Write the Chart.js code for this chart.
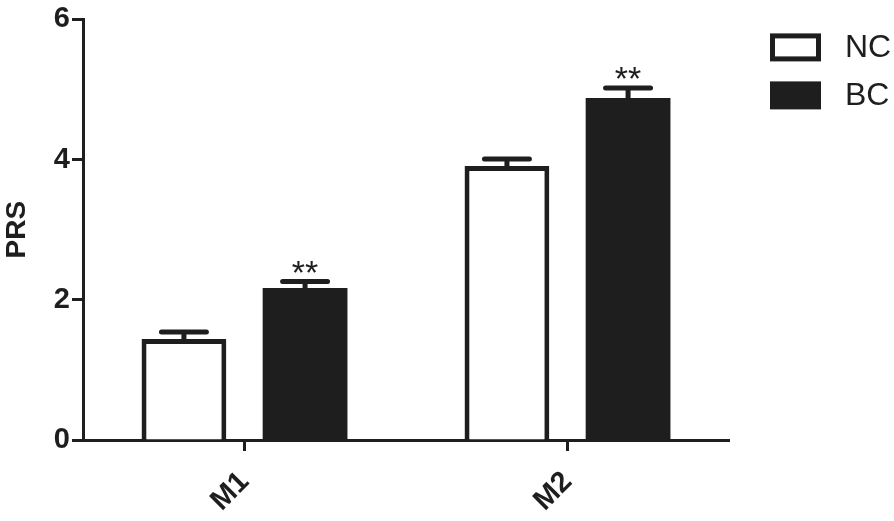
<!DOCTYPE html>
<html>
<head>
<meta charset="utf-8">
<script src="https://cdn.jsdelivr.net/npm/chart.js@4.4.1/dist/chart.umd.min.js"></script>
<style>
  html, body { margin: 0; padding: 0; background: #fff; }
</style>
</head>
<body>
<canvas id="chart" width="894" height="521"></canvas>
<script>
'use strict';

const categories = ['M1', 'M2'];
const seriesNames = ['NC', 'BC'];
const ncValues = [1.44, 3.91];
const ncErrors = [0.10, 0.10];
const bcValues = [2.17, 4.88];
const bcErrors = [0.09, 0.14];
const bcMarks = ['**', '**'];
const yTicks = [0, 2, 4, 6];

const INK = '#1e1e1e';
const FONT = "'Liberation Sans', Arial, Helvetica, sans-serif";

Chart.defaults.font.family = FONT;
Chart.defaults.color = INK;

/* Draw the SEM whiskers and the significance marks on top of the bars */
const errorBars = {
  id: 'errorBars',
  afterDatasetsDraw(chart) {
    const ctx = chart.ctx;
    const yScale = chart.scales.y;

    chart.data.datasets.forEach((ds, di) => {
      const meta = chart.getDatasetMeta(di);

      meta.data.forEach((bar, i) => {
        const top = yScale.getPixelForValue(ds.data[i] + ds.errors[i]);
        const half = bar.width * 0.265;

        ctx.save();
        ctx.strokeStyle = INK;
        ctx.lineWidth = 5;
        ctx.lineCap = 'round';
        ctx.beginPath();
        ctx.moveTo(bar.x, bar.y);
        ctx.lineTo(bar.x, top);
        ctx.moveTo(bar.x - half, top);
        ctx.lineTo(bar.x + half, top);
        ctx.stroke();

        if(ds.marks && ds.marks[i]) {
          ctx.fillStyle = INK;
          ctx.font = '34px ' + FONT;
          ctx.textAlign = 'center';
          ctx.textBaseline = 'alphabetic';
          ctx.fillText(ds.marks[i], bar.x, top + 2);
        }
        ctx.restore();
      });
    });
  }
};

/* Legend boxes on the right, drawn like the original figure */
const sideLegend = {
  id: 'sideLegend',
  afterDraw(chart) {
    const ctx = chart.ctx;
    const area = chart.chartArea;
    const boxX = area.right + 41;

    chart.data.datasets.forEach((ds, di) => {
      const boxY = area.top + 14 + di * 48;

      ctx.save();
      ctx.fillStyle = ds.backgroundColor;
      ctx.fillRect(boxX, boxY, 51, 28);
      if(ds.borderWidth) {
        ctx.strokeStyle = INK;
        ctx.lineWidth = 5;
        ctx.strokeRect(boxX + 2.5, boxY + 2.5, 46, 23);
      }
      ctx.fillStyle = INK;
      ctx.font = '32px ' + FONT;
      ctx.textAlign = 'left';
      ctx.textBaseline = 'middle';
      ctx.fillText(ds.label, boxX + 75, boxY + 15);
      ctx.restore();
    });
  }
};

new Chart(document.getElementById('chart'), {
  type: 'bar',
  data: {
    labels: categories,
    datasets: [
      {
        label: seriesNames[0],
        data: ncValues,
        errors: ncErrors,
        backgroundColor: '#ffffff',
        borderColor: INK,
        borderWidth: 5,
        categoryPercentage: 0.75,
        barPercentage: 0.7
      },
      {
        label: seriesNames[1],
        data: bcValues,
        errors: bcErrors,
        marks: bcMarks,
        backgroundColor: INK,
        borderWidth: 0,
        categoryPercentage: 0.75,
        barPercentage: 0.7
      }
    ]
  },
  options: {
    responsive: false,
    animation: false,
    layout: { padding: { top: 16, right: 165, left: 0, bottom: 0 } },
    plugins: {
      legend: { display: false },
      tooltip: { enabled: false }
    },
    scales: {
      x: {
        grid: { drawOnChartArea: false, offset: false, tickLength: 11, tickWidth: 3, tickColor: INK },
        border: { display: true, width: 3, color: INK },
        ticks: {
          minRotation: 45,
          maxRotation: 45,
          padding: 14,
          color: INK,
          font: { size: 29, weight: 'bold' }
        },
        afterFit: scale => { scale.height = 81; }
      },
      y: {
        min: 0,
        max: 6,
        afterBuildTicks: scale => { scale.ticks = yTicks.map(v => ({ value: v })); },
        grid: { drawOnChartArea: false, tickLength: 11, tickWidth: 3, tickColor: INK },
        border: { display: true, width: 3, color: INK },
        ticks: {
          padding: 2,
          color: INK,
          font: { size: 29, weight: 'bold' }
        },
        title: {
          display: true,
          text: 'PRS',
          color: INK,
          padding: { top: 0, bottom: 0 },
          font: { size: 28, weight: 'bold' }
        },
        afterFit: scale => { scale.width = 83; }
      }
    }
  },
  plugins: [errorBars, sideLegend]
});
</script>
</body>
</html>
